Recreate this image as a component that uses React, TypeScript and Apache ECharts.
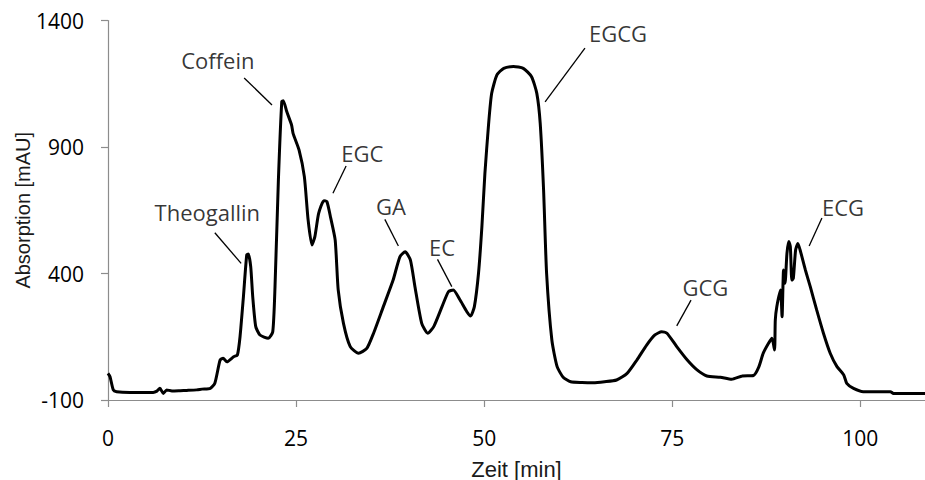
import React, { useEffect, useRef } from "react";
import * as echarts from "echarts";

// Chromatogram trace: [time (min), absorption (mAU)]
const traceTime = [
  0, 0.27, 0.7, 1.15, 2.9, 6.0, 6.5, 6.9, 7.35, 7.8, 8.5, 9.6, 10.5, 11.8, 12.5, 13.6, 14.2, 14.9, 15.3, 15.8,
  16.7, 17.2, 17.55, 18.0, 18.44, 18.66, 18.97, 19.24, 19.64, 20.2, 21.3, 21.9, 22.2, 22.65, 23.1, 23.3, 23.76,
  24.4, 24.6, 25.4, 26.1, 26.6, 27.1, 27.5, 28.0, 28.7, 29.1, 29.6, 30.2, 30.6, 31.3, 32.2, 33.3, 34.4, 35.3,
  36.6, 37.9, 38.8, 39.5, 40.2, 40.8, 41.7, 42.5, 43.3, 44.4, 45.25, 45.9, 46.8, 47.7, 48.2, 48.7, 49.25, 49.7,
  50.1, 50.6, 51.0, 51.7, 52.6, 53.9, 55.2, 56.3, 57.0, 57.45, 57.9, 58.3, 59.0, 59.7, 60.5, 61.5, 63.0, 64.5,
  66.0, 67.6, 69.0, 70.3, 71.6, 72.7, 73.6, 74.3, 75.6, 77.0, 78.3, 79.6, 81.4, 82.9, 84.3, 85.8, 86.5, 87.1,
  87.8, 88.25, 88.6, 88.7, 88.9, 89.4, 89.6, 89.8, 90.0, 90.25, 90.5, 90.7, 90.9, 91.1, 91.4, 91.7, 92.0, 92.7,
  93.35, 94.2, 95.1, 96.0, 96.9, 97.8, 98.2, 99.1, 100.4, 104.0, 104.4, 108.6,
];
const traceAbs = [
  5, -8, -60, -67, -70, -70, -65, -54, -74, -60, -64, -63, -62, -60, -57, -54, -34, 58, 65, 51,
  71, 78, 150, 308, 473, 477, 427, 308, 190, 157, 144, 170, 348, 770, 1079, 1083, 1040,
  987, 954, 888, 783, 612, 513, 546, 638, 688, 684, 620, 532, 335, 203, 111, 85, 104, 164,
  269, 374, 466, 486, 453, 348, 203, 164, 190, 269, 328, 335, 295, 249, 232, 269, 401, 585,
  796, 994, 1112, 1185, 1211, 1218, 1211, 1178, 1112, 994, 730, 401, 137, 32, -10, -28, -31, -32,
  -28, -21, 5, 58, 117, 157, 170, 164, 111, 58, 19, -5, -10, -18, -5, -3, 30, 85,
  124, 144, 98, 216, 269, 335, 229, 414, 361, 480, 526, 506, 374, 381, 493, 519, 493, 414,
  348, 256, 164, 85, 32, -1, -34, -54, -67, -67, -74, -74,
];

// Peak annotations
const peakNames = ["Coffein", "Theogallin", "EGC", "GA", "EC", "EGCG", "GCG", "ECG"];
const labelPos = [
  [14.6, 1244], [13.2, 644], [33.8, 875], [37.6, 667], [44.4, 506], [67.8, 1351], [79.4, 347], [97.7, 663],
];
const leaderStart = [
  [18.1, 1173], [14.2, 561], [31.65, 825], [36.8, 614], [43.8, 456], [63.4, 1291], [77.5, 295], [94.9, 619],
];
const leaderEnd = [
  [21.8, 1066], [17.7, 440], [29.9, 717], [38.6, 509], [45.7, 348], [58.1, 1078], [75.6, 193], [93.2, 509],
];

const xTicks = [0, 25, 50, 75, 100];
const yTicks = [-100, 400, 900, 1400];

const axisGray = "#8c8c8c";
const labelFont = "'Open Sans', 'Noto Sans', sans-serif";
const titleFont = "'Liberation Sans', Arial, sans-serif";

export default function App() {
  const ref = useRef<HTMLDivElement>(null);

  useEffect(() => {
    document.body.style.margin = "0";
    if (!ref.current) return;
    const chart = echarts.init(ref.current, null, { renderer: "svg" });
    const trace = traceTime.map((t, i) => [t, traceAbs[i]]);
    chart.setOption({
      animation: false,
      backgroundColor: "#ffffff",
      grid: {
        left: 108,
        right: 0,
        top: 20.5,
        bottom: 80,
        containLabel: false,
        outerBoundsMode: "none",
      },
      xAxis: {
        type: "value",
        min: 0,
        max: 108.6,
        name: "Zeit [min]",
        nameLocation: "middle",
        nameGap: 58,
        nameMoveOverlap: false,
        nameTextStyle: { fontFamily: titleFont, fontSize: 22, color: "#1a1a1a" },
        axisLine: { show: true, onZero: false, lineStyle: { color: axisGray, width: 1.2 } },
        axisTick: { show: true, length: 7, customValues: xTicks, lineStyle: { color: axisGray, width: 1.2 } },
        axisLabel: {
          customValues: xTicks,
          margin: 27,
          fontFamily: labelFont,
          fontSize: 21,
          color: "#000000",
          formatter: (v: number) => String(v),
        },
        splitLine: { show: false },
      },
      yAxis: {
        type: "value",
        min: -100,
        max: 1400,
        name: "Absorption [mAU]",
        nameLocation: "middle",
        nameGap: 75,
        nameMoveOverlap: false,
        nameTextStyle: { fontFamily: titleFont, fontSize: 20, color: "#1a1a1a" },
        axisLine: { show: true, onZero: false, lineStyle: { color: axisGray, width: 1.2 } },
        axisTick: { show: true, length: 7, customValues: yTicks, lineStyle: { color: axisGray, width: 1.2 } },
        axisLabel: {
          customValues: yTicks,
          margin: 24,
          fontFamily: labelFont,
          fontSize: 21,
          color: "#000000",
          formatter: (v: number) => String(v),
        },
        splitLine: { show: false },
      },
      series: [
        {
          type: "line",
          data: trace,
          showSymbol: false,
          symbol: "none",
          smooth: 0.2,
          lineStyle: { color: "#000000", width: 3 },
          z: 3,
        },
        {
          type: "lines",
          coordinateSystem: "cartesian2d",
          data: peakNames.map((n, i) => ({ name: n, coords: [leaderStart[i], leaderEnd[i]] })),
          lineStyle: { color: "#000000", width: 1.3, opacity: 1 },
          symbol: "none",
          z: 4,
        },
        {
          type: "scatter",
          data: peakNames.map((n, i) => ({ name: n, value: labelPos[i] })),
          symbol: "circle",
          symbolSize: 1,
          itemStyle: { color: "transparent" },
          label: {
            show: true,
            position: "inside",
            formatter: (p: any) => p.name,
            fontFamily: labelFont,
            fontSize: 22,
            color: "#000000",
          },
          z: 5,
        },
      ],
    });
    return () => chart.dispose();
  }, []);

  return <div ref={ref} style={{ width: 925, height: 480 }} />;
}
